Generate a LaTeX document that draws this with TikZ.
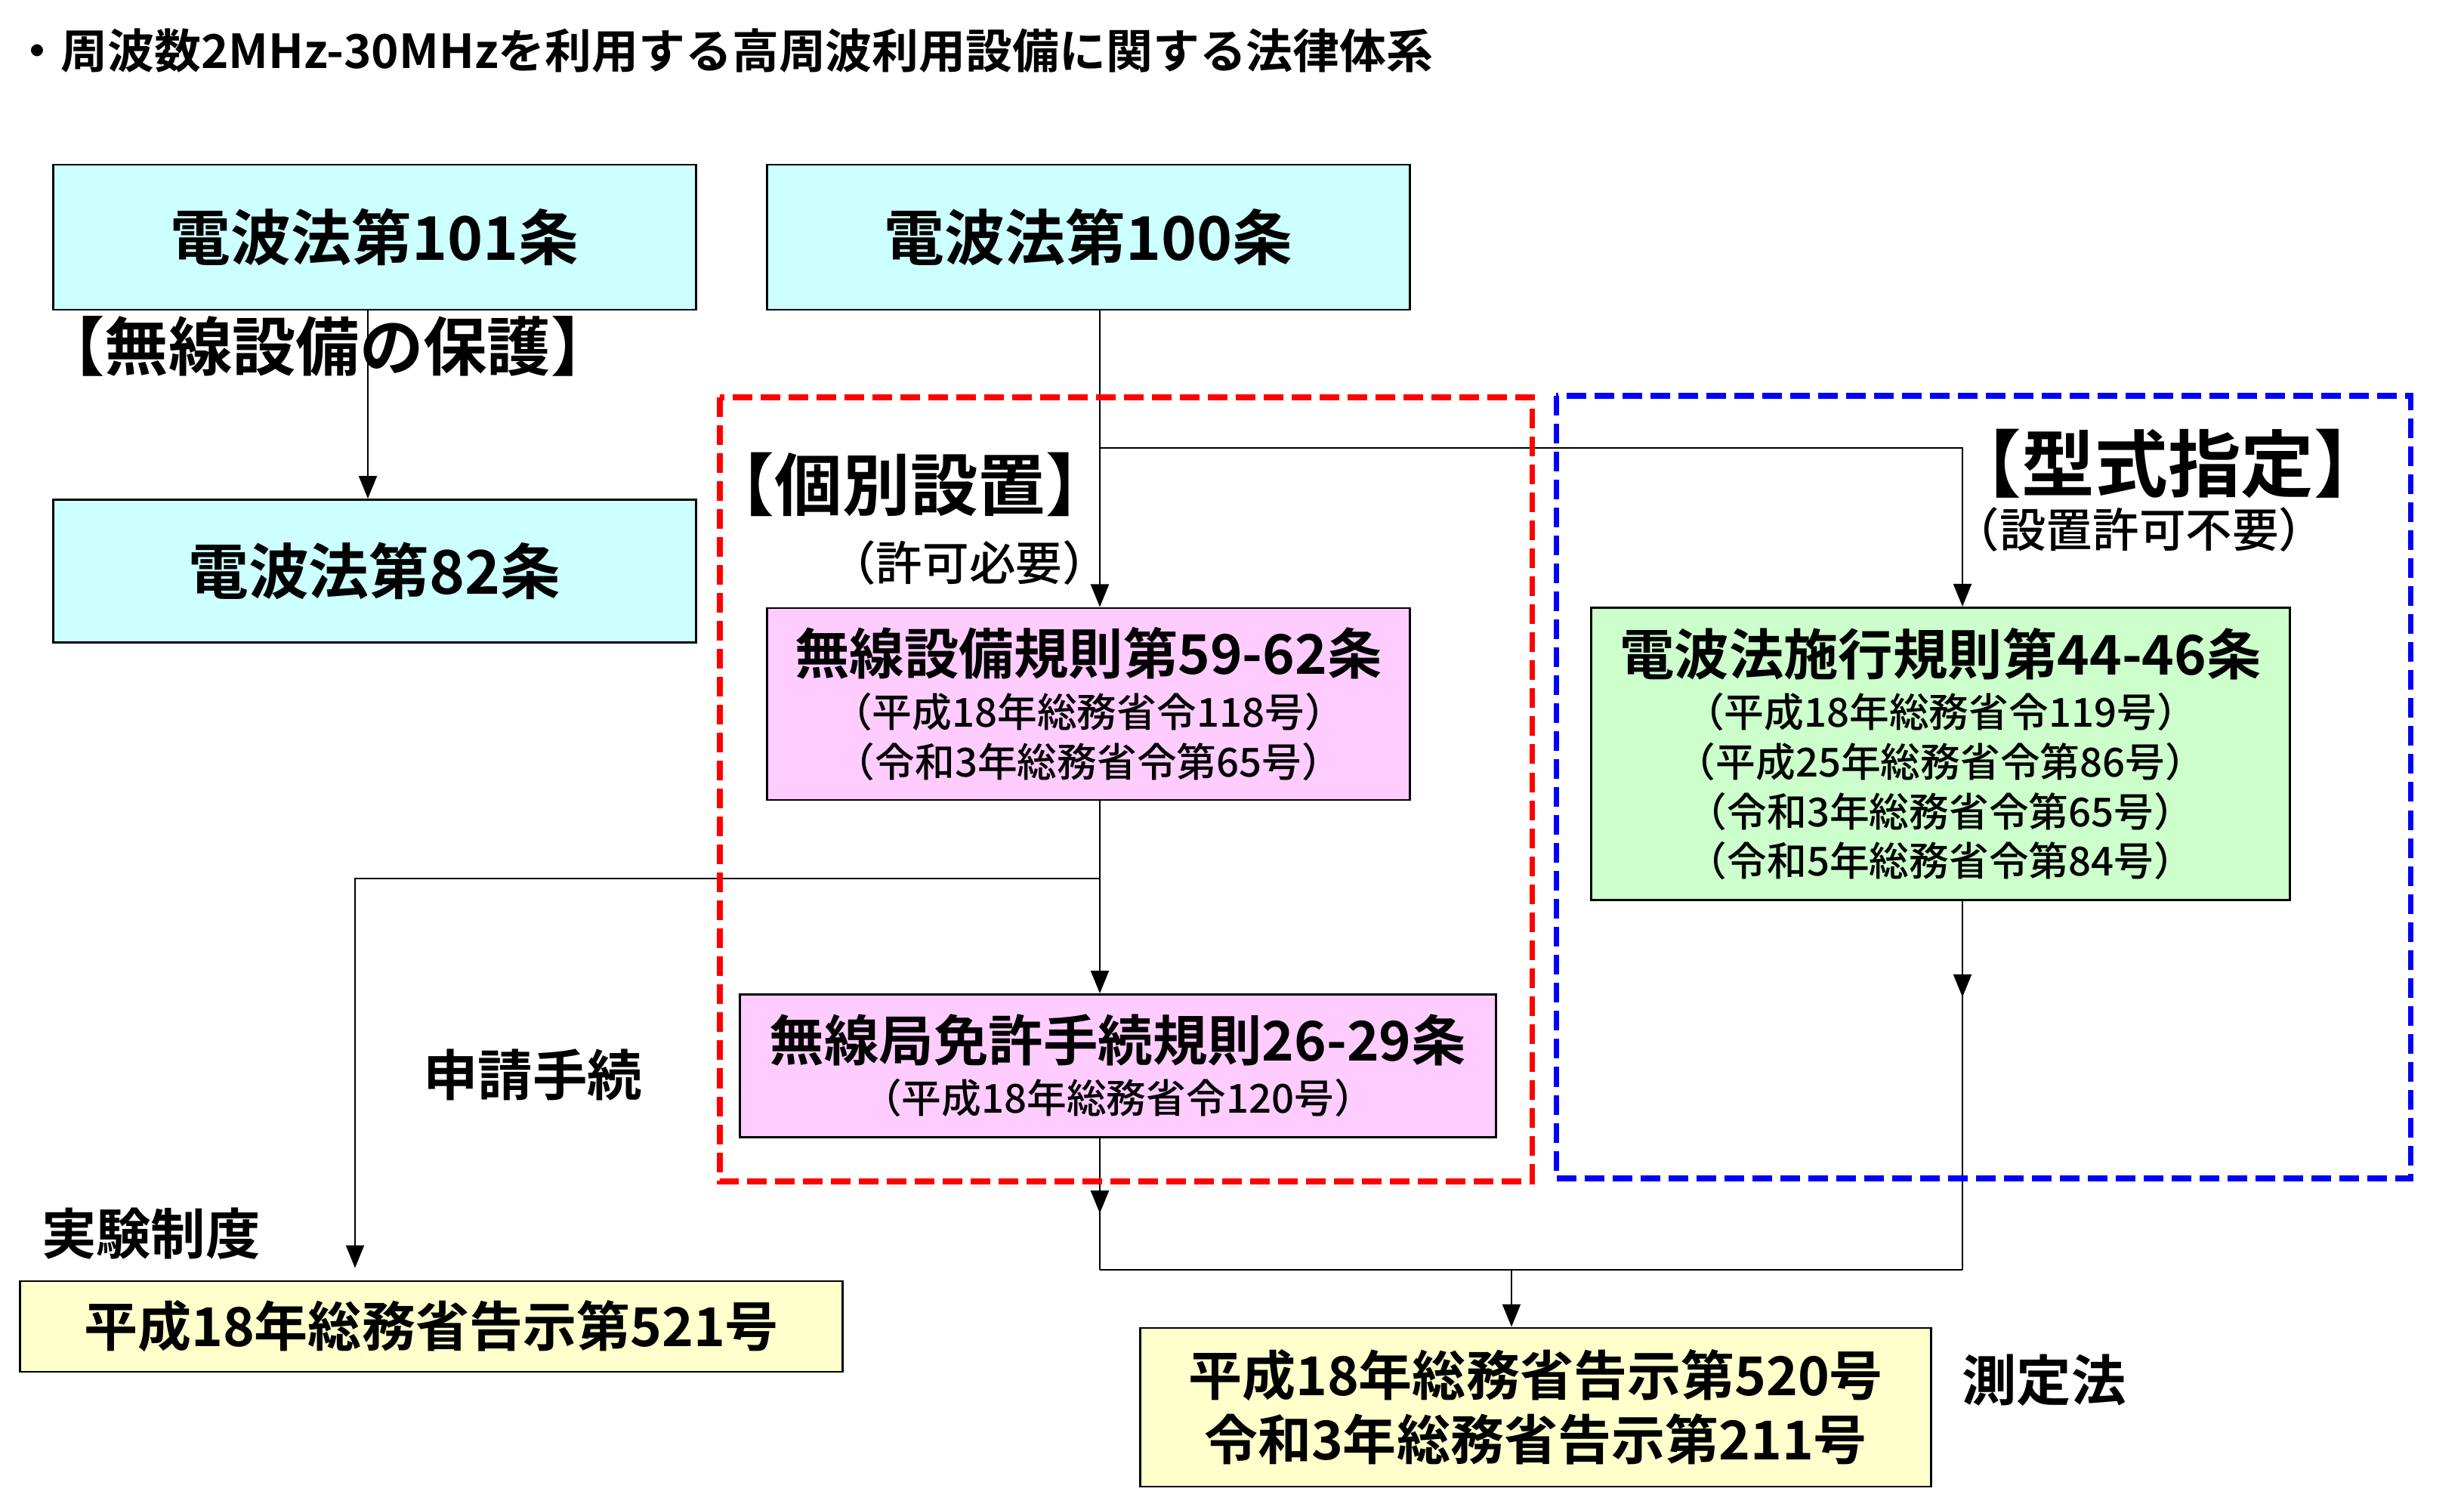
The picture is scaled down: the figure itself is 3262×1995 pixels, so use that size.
\documentclass[tikz,border=0pt]{standalone}
\usepackage{fontspec}
\newfontfamily\jpb{Noto Sans CJK JP Bold}
\newfontfamily\jpm{Noto Sans CJK JP Medium}
\usetikzlibrary{arrows.meta,decorations.markings}
\definecolor{cyanfill}{HTML}{CCFFFF}
\definecolor{pinkfill}{HTML}{FFCCFF}
\definecolor{greenfill}{HTML}{CCFFCC}
\definecolor{yellowfill}{HTML}{FFFFCC}
\newcommand\fTitle{\jpb\fontsize{17.6}{21}\selectfont}
\newcommand\fBig{\jpb\fontsize{22.7}{28}\selectfont}
\newcommand\fMid{\jpb\fontsize{20.6}{24}\selectfont}
\newcommand\fYel{\jpb\fontsize{20.2}{24.2}\selectfont}
\newcommand\fSub{\jpm\fontsize{15}{18.7}\selectfont}
\newcommand\fKakko{\jpb\fontsize{25.5}{30}\selectfont}
\newcommand\fNote{\jpm\fontsize{17.5}{21}\selectfont}
\tikzstyle{bx}=[draw=black,line width=0.8pt,align=center,inner sep=2pt]
\tikzstyle{cyanbx}=[bx,fill=cyanfill,font=\fBig]
\tikzstyle{pinkbx}=[bx,fill=pinkfill,font=\fSub]
\tikzstyle{greenbx}=[bx,fill=greenfill,font=\fSub]
\tikzstyle{yellowbx}=[bx,fill=yellowfill,font=\fYel]
\tikzstyle{cn}=[line width=0.6pt]
\tikzstyle{ln}=[cn,-{Triangle[width=0.24cm,length=0.3cm]}]
\tikzstyle{reddash}=[red,line width=2pt,dash pattern=on 0.26cm off 0.11cm]
\tikzstyle{bluedash}=[blue,line width=2pt,dash pattern=on 0.26cm off 0.11cm]
\tikzset{midarr/.style={postaction={decorate},decoration={markings,mark=at position #1 with {\arrow{Triangle[width=0.24cm,length=0.3cm]}}}}}

\begin{document}
\begin{tikzpicture}[x=0.01cm,y=-0.01cm]
\useasboundingbox (0,0) rectangle (3262,1995);
\node[anchor=west,inner sep=0pt,font=\fTitle] (ttl) at (18,67) {・周波数2MHz-30MHzを利用する高周波利用設備に関する法律体系};
% law boxes
\node[cyanbx,minimum width=8.51cm,minimum height=1.92cm] (b101) at (496,314) {電波法第101条};
\node[cyanbx,minimum width=8.51cm,minimum height=1.92cm] (b100) at (1441,314) {電波法第100条};
\node[cyanbx,minimum width=8.51cm,minimum height=1.89cm] (b82) at (496,756) {電波法第82条};
\node[pinkbx,minimum width=8.51cm,minimum height=2.54cm] (b59) at (1441,932) {{\fMid 無線設備規則第59-62条}\\[1pt]（平成18年総務省令118号）\\（令和3年総務省令第65号）};
\node[greenbx,minimum width=9.24cm,minimum height=3.87cm] (b44) at (2569,998) {{\fMid 電波法施行規則第44-46条}\\[1pt]（平成18年総務省令119号）\\（平成25年総務省令第86号）\\（令和3年総務省令第65号）\\（令和5年総務省令第84号）};
\node[pinkbx,minimum width=10.01cm,minimum height=1.89cm] (b26) at (1480,1411) {{\fMid 無線局免許手続規則26-29条}\\[1pt]（平成18年総務省令120号）};
\node[yellowbx,minimum width=10.88cm,minimum height=1.2cm] (b521) at (571,1756) {平成18年総務省告示第521号};
\node[yellowbx,minimum width=10.47cm,minimum height=2.1cm] (b520) at (2033,1863) {平成18年総務省告示第520号\\令和3年総務省告示第211号};
% labels
\node[font=\jpb\fontsize{24}{28}\selectfont] (hogo) at (434,458) {【無線設備の保護】};
\node[font=\fKakko] (kobetsu) at (1205,641) {【個別設置】};
\node[font=\fNote] (kyoka) at (1283,745) {（許可必要）};
\node[font=\jpb\fontsize{27.5}{32}\selectfont] (kata) at (2870,614) {【型式指定】};
\node[font=\fNote] (fuyo) at (2832,701) {（設置許可不要）};
\node[font=\fMid] (shinsei) at (705,1423) {申請手続};
\node[font=\fMid] (jikken) at (200,1633) {実験制度};
\node[font=\fMid] (sokutei) at (2706,1827) {測定法};
% connectors
\coordinate (colA) at (1456,0); \coordinate (colB) at (2598,0);
\coordinate (colL) at (487,0); \coordinate (colE) at (470,0);
\coordinate (sp1) at (1456,593); \coordinate (sp2) at (1456,1163);
\coordinate (mgL) at (1456,1681); \coordinate (mgR) at (2598,1681); \coordinate (mgC) at (2001,1681);
\draw[ln] (b101.south -| colL) -- (b82.north -| colL);
\draw[ln] (b100.south -| colA) -- (b59.north -| colA);
\draw[ln] (sp1) -| (b44.north -| colB);
\draw[ln] (b59.south -| colA) -- (b26.north -| colA);
\draw[ln,shorten >=0.16cm] (sp2) -| (b521.north -| colE);
\draw[cn,midarr=0.57] (b26.south -| colA) -- (mgL);
\draw[cn,midarr=0.26] (b44.south -| colB) -- (mgR);
\draw[cn] (mgL) -- (mgR);
\draw[ln] (mgC) -- (b520.north -| mgC);
% groups
\draw[reddash] (953,526) rectangle (2028,1564);
\draw[bluedash] (2060,524) rectangle (3191,1560);
\end{tikzpicture}
\end{document}
